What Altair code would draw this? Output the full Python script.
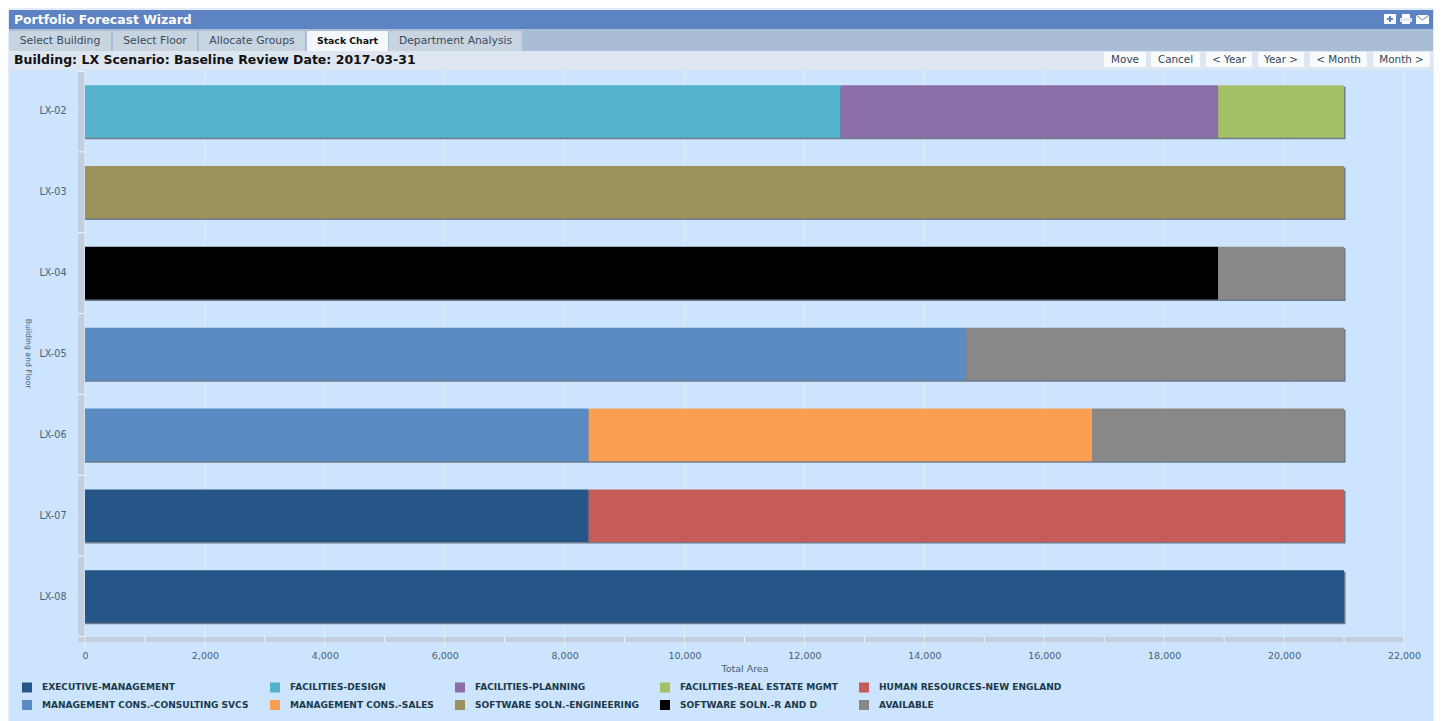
import altair as alt
import pandas as pd

FONT = "DejaVu Sans"

# ---- data
floors = ["LX-02", "LX-03", "LX-04", "LX-05", "LX-06", "LX-07", "LX-08"]
departments = [
    "EXECUTIVE-MANAGEMENT", "FACILITIES-DESIGN", "FACILITIES-PLANNING",
    "FACILITIES-REAL ESTATE MGMT", "HUMAN RESOURCES-NEW ENGLAND",
    "MANAGEMENT CONS.-CONSULTING SVCS", "MANAGEMENT CONS.-SALES",
    "SOFTWARE SOLN.-ENGINEERING", "SOFTWARE SOLN.-R AND D", "AVAILABLE",
]
colors = ["#265587", "#55b2cd", "#8b6ea8", "#a4c066", "#c65c58",
          "#5a8bc3", "#fa9f52", "#9c925c", "#000000", "#888888"]
row_floor = ["LX-02", "LX-02", "LX-02", "LX-03", "LX-04", "LX-04", "LX-05", "LX-05",
             "LX-06", "LX-06", "LX-06", "LX-07", "LX-07", "LX-08"]
row_dept = [1, 2, 3, 7, 8, 9, 5, 9, 5, 6, 9, 0, 4, 0]
row_area = [12600, 6300, 2100, 21000, 18900, 2100, 14700, 6300, 8400, 8400, 4200, 8400, 12600, 21000]
major_ticks = list(range(0, 22001, 2000))
minor_ticks = list(range(1000, 22000, 2000))
tabs = ["Select Building", "Select Floor", "Allocate Groups", "Stack Chart", "Department Analysis"]
buttons = ["Move", "Cancel", "< Year", "Year >", "< Month", "Month >"]
page_title = "Portfolio Forecast Wizard"
sub_title = "Building: LX Scenario: Baseline Review Date: 2017-03-31"

df = pd.DataFrame({
    "floor": row_floor,
    "dept": [departments[i] for i in row_dept],
    "idx": row_dept,
    "area": row_area,
})

# ---- page geometry
PW, PH = 1319, 566
OX, OY = 85, 71
BOTTOM = 721
one = pd.DataFrame({"a": [0]})


def box(x0, y0, x1, y1, color, radius=0):
    return alt.Chart(one).mark_rect(color=color, cornerRadius=radius).encode(
        x=alt.value(x0 - OX), x2=alt.value(x1 - OX),
        y=alt.value(y0 - OY), y2=alt.value(y1 - OY))


def stroke(x0, y0, x1, y1, color, width=1):
    return alt.Chart(one).mark_rule(color=color, strokeWidth=width).encode(
        x=alt.value(x0 - OX), x2=alt.value(x1 - OX),
        y=alt.value(y0 - OY), y2=alt.value(y1 - OY))


def label(x, y, text, size=10, color="#33475b", weight="normal", align="left"):
    return alt.Chart(one).mark_text(font=FONT, fontSize=size, color=color, fontWeight=weight,
                                    align=align, baseline="middle").encode(
        x=alt.value(x - OX), y=alt.value(y - OY), text=alt.value(text))


layers = [
    box(8, 8, 1434, BOTTOM, "#e3ecf8"),
    box(9, 70, 1433, BOTTOM, "#cce4fd"),
    box(9, 10, 1433, 29, "#5e83c3"),
    box(9, 29, 1433, 51, "#aabdd6"),
    box(9, 51, 1433, 70, "#dde6f1"),
    label(14, 19.5, page_title, size=12.4, color="#ffffff", weight="bold"),
]

tab_edges = [(9, 111), (113, 197), (199, 305), (307, 388), (389, 522)]
for name, (a, b) in zip(tabs, tab_edges):
    active = name == "Stack Chart"
    layers.append(box(a, 31, b, 51, "#f4f7fb" if active else "#c9d4e1"))
    layers.append(label((a + b) / 2, 41, name, size=10.8 if not active else 9.3,
                        color="#111111" if active else "#3a4a5a",
                        weight="bold" if active else "normal", align="center"))
layers.append(label(14, 60, sub_title, size=12.5, color="#111111", weight="bold"))

btn_edges = [(1104, 1146), (1151, 1200), (1206, 1252), (1258, 1304), (1310, 1367), (1373, 1430)]
for name, (a, b) in zip(buttons, btn_edges):
    layers.append(box(a, 52, b, 67, "#f8fafc", radius=2))
    layers.append(label((a + b) / 2, 60, name, size=10.4, color="#33475b", align="center"))

# header icons
layers += [
    box(1384, 14, 1396, 24, "#ffffff", radius=1),
    box(1387, 18, 1393, 20, "#5e83c3"),
    box(1389, 16, 1391, 22, "#5e83c3"),
    box(1402, 14, 1410, 18, "#ffffff"),
    box(1400, 18, 1412, 22, "#dfe7f4"),
    box(1402, 21, 1410, 24, "#ffffff"),
    box(1416, 15, 1429, 24, "#ffffff"),
    stroke(1416, 15, 1422.5, 20, "#5e83c3"),
    stroke(1422.5, 20, 1429, 15, "#5e83c3"),
]

# plot bands
BAND = "#c2cfdf"
layers += [
    box(78, 72, 85, 636, BAND),
    box(78, 637, 1403, 642, BAND),
    box(78, 636, 85, 637, "#f2f7fd"),
    box(78, 71, 85, 72, "#f2f7fd"),
]
STEP = PH / len(floors)
for k in range(1, len(floors)):
    sep = OY + STEP * k
    layers.append(box(78, sep - 0.5, 85, sep + 0.5, "#f2f7fd"))

x_scale = alt.Scale(domain=[0, 22000], nice=False, zero=True)
y_scale = alt.Scale(domain=floors, paddingInner=0.35, paddingOuter=0.175)
x_axis = alt.Axis(title="Total Area", values=major_ticks, format=",.0f", grid=False, domain=False,
                  ticks=False, labelPadding=13, labelFont=FONT, labelFontSize=9.5,
                  labelColor="#4a6070", titleFont=FONT, titleFontSize=9.5,
                  titleFontWeight="normal", titleColor="#4a6070", titleY=31,
                  titleBaseline="middle", labelFlush=False, labelOverlap=False, zindex=1)
y_axis = alt.Axis(title="Building and Floor", domain=False, ticks=False, grid=False,
                  labelPadding=19, labelFont=FONT, labelFontSize=9.6, labelColor="#4a6070",
                  titleFont=FONT, titleFontSize=7.7, titleFontWeight="normal",
                  titleColor="#4a6070", titleAngle=90, titleX=-58, titleY=282,
                  titleAlign="center", titleBaseline="middle", zindex=1)

grid = alt.Chart(pd.DataFrame({"v": major_ticks})).mark_rule(color="#e2edfa", strokeWidth=1).encode(
    x=alt.X("v:Q", scale=x_scale, axis=x_axis),
    y=alt.value(0), y2=alt.value(PH + 11))
minor = alt.Chart(pd.DataFrame({"v": minor_ticks})).mark_rule(color="#f2f7fd", strokeWidth=1).encode(
    x=alt.X("v:Q", scale=x_scale, axis=x_axis),
    y=alt.value(PH), y2=alt.value(PH + 5))
layers += [grid, minor]

shadow = alt.Chart(df).mark_bar(color="#5d6a78", opacity=0.85, xOffset=1.5, yOffset=1.5).encode(
    x=alt.X("sum(area):Q", scale=x_scale, axis=x_axis),
    y=alt.Y("floor:N", scale=y_scale, sort=floors, axis=y_axis),
)
layers.append(shadow)

bars = alt.Chart(df).mark_bar().encode(
    x=alt.X("area:Q", stack="zero", scale=x_scale, axis=x_axis),
    y=alt.Y("floor:N", scale=y_scale, sort=floors, axis=y_axis),
    color=alt.Color("dept:N", scale=alt.Scale(domain=departments, range=colors),
                    legend=alt.Legend(title=None, orient="none", legendX=22 - OX, legendY=682 - OY,
                                      direction="horizontal", columns=5, gridAlign="each",
                                      columnPadding=21, rowPadding=7,
                                      symbolType="square", symbolSize=100, symbolStrokeWidth=0,
                                      symbolOpacity=1, labelOffset=10, labelFont=FONT,
                                      labelFontSize=9.05, labelFontWeight="bold",
                                      labelColor="#1b3a4b", labelLimit=300, zindex=1)),
    order=alt.Order("idx:Q"),
)
layers.append(bars)

chart = alt.layer(*layers).properties(
    width=PW, height=PH,
    padding={"left": OX - 8, "top": OY - 8, "right": 30, "bottom": 84},
    autosize=alt.AutoSizeParams(type="none"),
    background="#ffffff",
).configure_view(stroke=None)

chart.save("out.html", embed_options={"renderer": "svg", "actions": False})
